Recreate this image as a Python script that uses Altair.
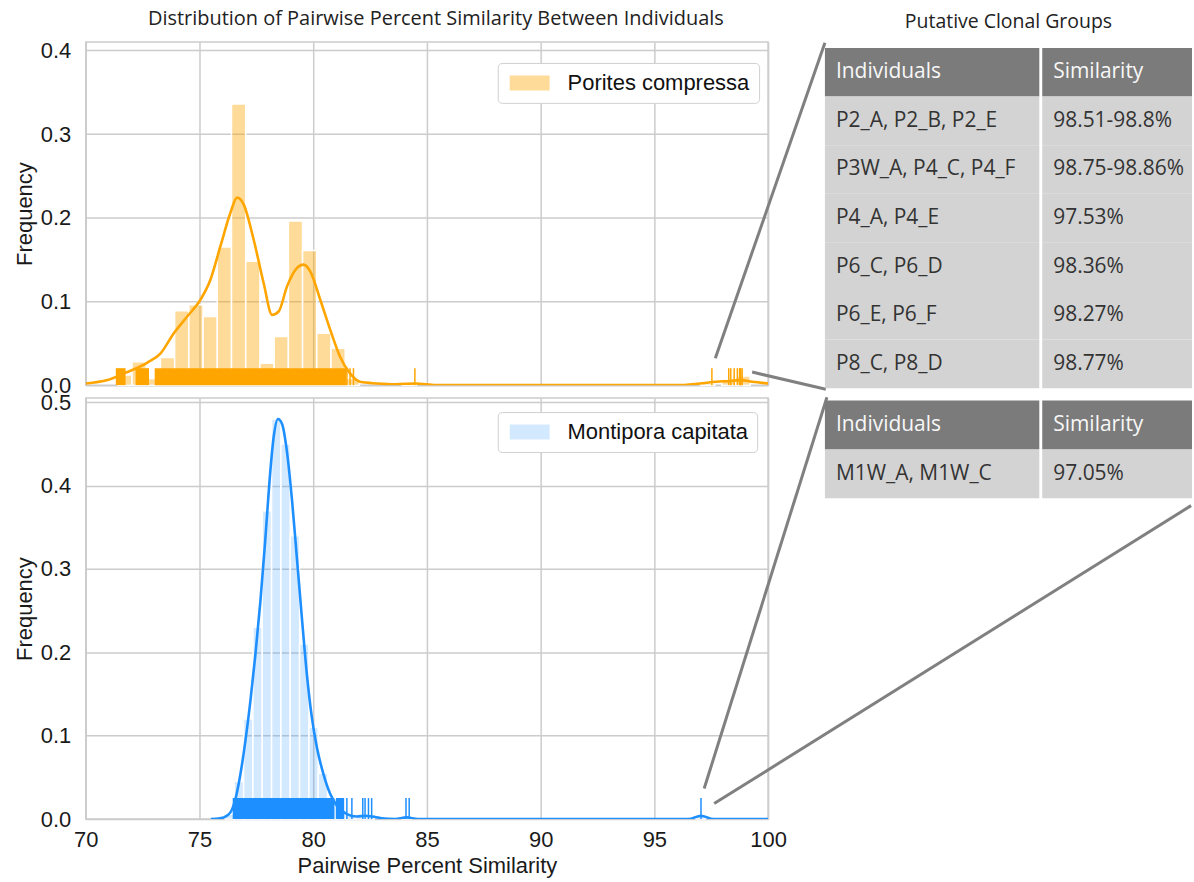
import altair as alt
import pandas as pd

# ---------------- values ----------------
# Porites compressa: histogram (bin centres / density), KDE curve, rug
pc_bin_centers = [71.72, 72.345, 72.97, 73.595, 74.22, 74.845, 75.47, 76.095, 76.72, 77.345,
                  77.97, 78.595, 79.22, 79.845, 80.47, 81.095, 81.72, 84.22, 97.345, 98.28, 98.905]
pc_bin_freq = [0.012, 0.028, 0.008, 0.033, 0.089, 0.096, 0.082, 0.165, 0.336, 0.148,
               0.026, 0.058, 0.196, 0.161, 0.062, 0.044, 0.008, 0.002, 0.002, 0.005, 0.011]
pc_bin_width = 0.625

pc_kde_x = [70.0, 70.95, 71.68, 72.71, 73.29, 73.87, 74.46, 75.04, 75.48, 75.92, 76.36, 76.65,
            76.94, 77.38, 77.82, 78.19, 78.48, 78.85, 79.29, 79.57, 79.87, 80.31, 80.75, 81.18,
            81.62, 82.06, 82.8, 83.6, 84.5, 85.4, 96.0, 97.0, 97.7, 98.3, 98.8, 99.3, 100.0]
pc_kde_y = [0.002, 0.006, 0.014, 0.027, 0.038, 0.062, 0.082, 0.102, 0.126, 0.166, 0.206, 0.224,
            0.216, 0.174, 0.122, 0.084, 0.088, 0.118, 0.140, 0.144, 0.136, 0.102, 0.066, 0.034,
            0.014, 0.004, 0.002, 0.001, 0.002, 0.0, 0.0, 0.002, 0.004, 0.005, 0.006, 0.004, 0.002]

pc_rug_block_start = [71.32, 72.19, 73.03]
pc_rug_block_end = [71.75, 72.78, 81.45]
pc_rug_ticks = [81.48, 81.62, 81.77, 84.47, 97.53, 98.27, 98.36, 98.51, 98.65, 98.75, 98.77, 98.80, 98.86]

# Montipora capitata
mc_bin_centers = [76.325, 76.735, 77.145, 77.555, 77.965, 78.375, 78.785, 79.195, 79.605,
                  80.015, 80.425, 80.835, 81.245, 81.655, 82.065, 82.475, 84.115, 97.035]
mc_bin_freq = [0.006, 0.045, 0.12, 0.23, 0.37, 0.48, 0.45, 0.34, 0.21,
               0.11, 0.055, 0.025, 0.01, 0.004, 0.003, 0.004, 0.003, 0.003]
mc_bin_width = 0.41

mc_kde_x = [75.5, 75.9, 76.07, 76.36, 76.58, 76.80, 77.02, 77.24, 77.46, 77.68, 77.89, 78.08,
            78.26, 78.45, 78.63, 78.84, 79.07, 79.28, 79.50, 79.72, 79.94, 80.16, 80.45, 80.75,
            81.04, 81.48, 81.92, 82.3, 82.6, 83.0, 83.6, 84.1, 84.6, 85.2, 96.5, 97.05, 97.6, 100.0]
mc_kde_y = [0.0, 0.001, 0.002, 0.008, 0.024, 0.054, 0.094, 0.142, 0.198, 0.262, 0.334, 0.406,
            0.458, 0.480, 0.474, 0.442, 0.382, 0.314, 0.242, 0.174, 0.122, 0.086, 0.054, 0.030,
            0.016, 0.006, 0.003, 0.004, 0.003, 0.001, 0.0, 0.002, 0.0, 0.0, 0.0, 0.004, 0.0, 0.0]

mc_rug_block_start = [76.46, 81.0]
mc_rug_block_end = [80.93, 81.36]
mc_rug_ticks = [81.48, 81.70, 82.18, 82.28, 82.43, 82.57, 84.08, 84.22, 97.05]

# connector lines (data units of each panel) from the outlying pairs to the tables
pc_conn_x1 = [97.68, 99.3]
pc_conn_y1 = [0.032, 0.0156]
pc_conn_x2 = [102.5, 102.54]
pc_conn_y2 = [0.409, -0.005]
mc_conn_x1 = [97.19, 97.63]
mc_conn_y1 = [0.0366, 0.0186]
mc_conn_x2 = [102.59, 118.6]
mc_conn_y2 = [0.506, 0.376]

# tables
table_headers = ["Individuals", "Similarity"]
pc_individuals = ["P2_A, P2_B, P2_E", "P3W_A, P4_C, P4_F", "P4_A, P4_E", "P6_C, P6_D", "P6_E, P6_F", "P8_C, P8_D"]
pc_similarity = ["98.51-98.8%", "98.75-98.86%", "97.53%", "98.36%", "98.27%", "98.77%"]
mc_individuals = ["M1W_A, M1W_C"]
mc_similarity = ["97.05%"]

species = ["Porites compressa", "Montipora capitata"]
ticks_x = [70, 75, 80, 85, 90, 95, 100]

# ---------------- styling ----------------
ORANGE = "#FFA500"
BLUE = "#1E8FFF"
W = 684
H_TOP = 344
H_BOT = 422
AX_FONT = "Liberation Sans"
TXT_FONT = "Open Sans"


def hist_df(centers, freq, width, name):
    return pd.DataFrame({
        "start": [c - width / 2 for c in centers],
        "end": [c + width / 2 for c in centers],
        "freq": freq,
        "species": name,
    })


def panel(centers, freq, width, kde_x, kde_y, rb_s, rb_e, rticks, cx1, cy1, cx2, cy2,
          name, color, bar_opacity, ymax, yticks, height, show_x, legend_y, title=None):
    xs = alt.Scale(domain=[70, 100], nice=False, zero=False)
    ys = alt.Scale(domain=[0, ymax], nice=False)
    if show_x:
        xaxis = alt.Axis(values=ticks_x, grid=True, title="Pairwise Percent Similarity",
                         labelPadding=11, titlePadding=5, format="d", labelFlush=False)
    else:
        xaxis = alt.Axis(values=ticks_x, grid=True, labels=False, title=None)
    yaxis = alt.Axis(values=yticks, format=".1f", grid=True, title="Frequency",
                     labelPadding=15, titlePadding=4, labelFlush=False)

    bars = alt.Chart(hist_df(centers, freq, width, name)).mark_rect(
        fillOpacity=bar_opacity, stroke="white", strokeWidth=1.5, strokeOpacity=1
    ).encode(
        x=alt.X("start:Q", scale=xs, axis=xaxis),
        x2="end:Q",
        y=alt.Y("freq:Q", scale=ys, axis=yaxis),
        y2=alt.datum(0),
        color=alt.Color("species:N", scale=alt.Scale(domain=[name], range=[color]),
                        legend=alt.Legend(orient="none", legendX=413, legendY=legend_y, title=None,
                                          symbolType="M-2,-0.75H2V0.75H-2Z", symbolSize=400,
                                          symbolOffset=12, symbolOpacity=bar_opacity,
                                          symbolStrokeWidth=0,
                                          labelFont=AX_FONT, labelFontSize=22, labelColor="#111111",
                                          labelOffset=27, labelLimit=400, padding=9,
                                          fillColor="white", strokeColor="#d0d0d0", cornerRadius=4)),
    )
    kde = alt.Chart(pd.DataFrame({"x": kde_x, "y": kde_y})).mark_line(
        color=color, strokeWidth=2.6, clip=True, interpolate="monotone"
    ).encode(x=alt.X("x:Q", scale=xs), y=alt.Y("y:Q", scale=ys))
    rug_len = round(height * 0.05)
    blocks = alt.Chart(pd.DataFrame({"s": rb_s, "e": rb_e})).mark_rect(color=color).encode(
        x=alt.X("s:Q", scale=xs), x2="e:Q",
        y=alt.value(height), y2=alt.value(height - rug_len))
    ticks = alt.Chart(pd.DataFrame({"v": rticks})).mark_rule(color=color, strokeWidth=1.5).encode(
        x=alt.X("v:Q", scale=xs), y=alt.value(height), y2=alt.value(height - rug_len))
    conn = alt.Chart(pd.DataFrame({"x1": cx1, "y1": cy1, "x2": cx2, "y2": cy2})).mark_rule(
        color="#808080", strokeWidth=3, clip=False
    ).encode(x=alt.X("x1:Q", scale=xs), x2="x2:Q", y=alt.Y("y1:Q", scale=ys), y2="y2:Q")
    layer = alt.layer(bars, kde, blocks, ticks, conn).properties(width=W, height=height)
    if title is not None:
        layer = layer.properties(title=alt.TitleParams(title, dx=9, anchor="middle"))
    return layer


top = panel(pc_bin_centers, pc_bin_freq, pc_bin_width, pc_kde_x, pc_kde_y,
            pc_rug_block_start, pc_rug_block_end, pc_rug_ticks,
            pc_conn_x1, pc_conn_y1, pc_conn_x2, pc_conn_y2,
            species[0], ORANGE, 0.4, 0.41, [0, 0.1, 0.2, 0.3, 0.4], H_TOP, False, 21,
            title="Distribution of Pairwise Percent Similarity Between Individuals")
bottom = panel(mc_bin_centers, mc_bin_freq, mc_bin_width, mc_kde_x, mc_kde_y,
               mc_rug_block_start, mc_rug_block_end, mc_rug_ticks,
               mc_conn_x1, mc_conn_y1, mc_conn_x2, mc_conn_y2,
               species[1], BLUE, 0.2, 0.505, [0, 0.1, 0.2, 0.3, 0.4, 0.5], H_BOT, True, 14)

COL_EDGES = {"Individuals": (0.0, 0.584), "Similarity": (0.592, 1.0)}
TW = 368


def table(individuals, similarity, height, yrange, title=None):
    rows = ["h"] + [f"r{i}" for i in range(len(individuals))]
    recs = []
    for ci, col in enumerate(table_headers):
        x0, x1 = COL_EDGES[col]
        recs.append({"row": "h", "x0": x0, "x1": x1, "label": col, "kind": "header"})
        vals = individuals if ci == 0 else similarity
        for ri, v in enumerate(vals):
            recs.append({"row": f"r{ri}", "x0": x0, "x1": x1, "label": v, "kind": "body"})
    df = pd.DataFrame(recs)
    xs = alt.Scale(domain=[0, 1], nice=False, zero=False)
    ys = alt.Scale(domain=rows, range=yrange, paddingInner=0, paddingOuter=0)
    base = alt.Chart(df)
    hdr = base.transform_filter(alt.datum.kind == "header")
    body = base.transform_filter(alt.datum.kind == "body")
    enc = dict(x=alt.X("x0:Q", scale=xs, axis=None), y=alt.Y("row:N", scale=ys, axis=None))
    hrect = hdr.mark_rect(color="#7b7b7b").encode(x2="x1:Q", **enc)
    brect = body.mark_rect(color="#d3d3d3").encode(x2="x1:Q", **enc)
    htext = hdr.mark_text(align="left", dx=11, baseline="middle", font=TXT_FONT, fontSize=21,
                          color="#f7f7f7").encode(text="label:N", **enc)
    btext = body.mark_text(align="left", dx=11, baseline="middle", font=TXT_FONT, fontSize=21,
                           color="#333333").encode(text="label:N", **enc)
    ch = alt.layer(hrect, brect, htext, btext).properties(
        width=TW, height=height, view=alt.ViewBackground(stroke=None))
    if title is not None:
        ch = ch.properties(title=alt.TitleParams(title, anchor="middle", fontSize=19.5))
    return ch


t1 = table(pc_individuals, pc_similarity, 347, [6, 347], title="Putative Clonal Groups")
t2 = table(mc_individuals, mc_similarity, 101, [2.5, 100.5])

chart = alt.concat(
    top, t1, bottom, t2, columns=2, spacing={"row": 10, "column": 57},
    bounds="flush", align="each"
).resolve_scale(color="independent").properties(
    padding={"left": 12, "top": 7, "right": 0, "bottom": 0}
).configure_view(
    stroke="#cccccc", strokeWidth=1.5
).configure_axis(
    labelFont=AX_FONT, labelFontSize=22, labelColor="#1a1a1a",
    titleFont=AX_FONT, titleFontSize=22, titleFontWeight="normal", titleColor="#1a1a1a",
    gridColor="#cccccc", gridWidth=1.5, domain=False, ticks=False
).configure_title(
    font=TXT_FONT, fontSize=20, fontWeight="normal", color="#222222", offset=10
)

chart.save("out.html", embed_options={"renderer": "svg", "actions": False})
